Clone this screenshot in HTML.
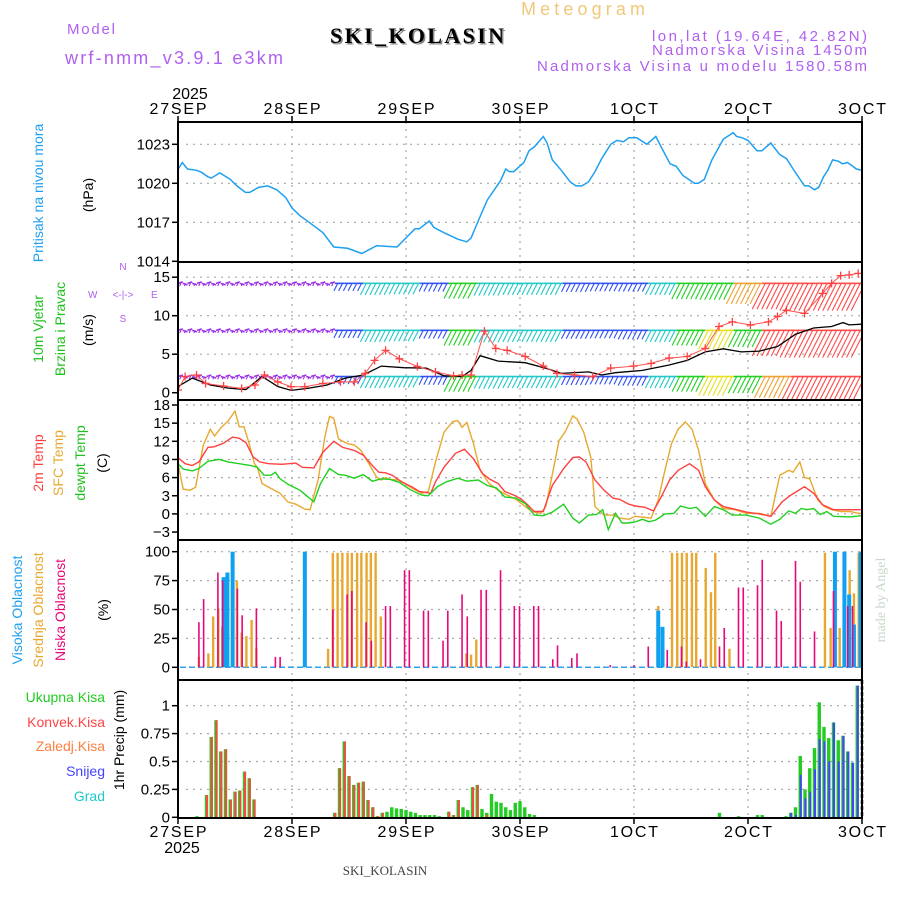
<!DOCTYPE html>
<html><head><meta charset="utf-8"><style>
body{margin:0;background:#fff}
svg{display:block;font-family:"Liberation Sans",sans-serif}
</style></head><body>
<svg id="chart" width="900" height="900" viewBox="0 0 900 900">
<g id="header">
<text x="521" y="15" fill="#f0c878" font-size="18" textLength="124">Meteogram</text>
<text x="67" y="34" fill="#b060f0" font-size="15" textLength="48">Model</text>
<text x="65" y="64" fill="#b060f0" font-size="18" textLength="218">wrf-nmm_v3.9.1 e3km</text>
<text x="417" y="43" fill="#888" font-size="22" font-weight="bold" font-family="Liberation Serif,serif" text-anchor="middle" textLength="174" transform="translate(1.5,1.5)">SKI_KOLASIN</text>
<text x="417" y="43" fill="#000" font-size="22" font-weight="bold" font-family="Liberation Serif,serif" text-anchor="middle" textLength="174">SKI_KOLASIN</text>
<text x="867" y="41" fill="#b060f0" font-size="15" text-anchor="end" textLength="215">lon,lat (19.64E, 42.82N)</text>
<text x="867" y="55" fill="#b060f0" font-size="15" text-anchor="end" textLength="215">Nadmorska Visina 1450m</text>
<text x="867" y="71" fill="#b060f0" font-size="15" text-anchor="end" textLength="330">Nadmorska Visina u modelu 1580.58m</text>
</g>
<g font-size="14">
<text transform="translate(43,193) rotate(-90)" fill="#20a0f0" text-anchor="middle">Pritisak na nivou mora</text>
<text transform="translate(93,195) rotate(-90)" fill="#000" text-anchor="middle">(hPa)</text>
<text transform="translate(43,329) rotate(-90)" fill="#20c020" text-anchor="middle">10m Vjetar</text>
<text transform="translate(65,329) rotate(-90)" fill="#20c020" text-anchor="middle">Brzina i Pravac</text>
<text transform="translate(93,330) rotate(-90)" fill="#000" text-anchor="middle">(m/s)</text>
<g fill="#b060f0" font-size="10">
<text x="123" y="270" text-anchor="middle">N</text><text x="123" y="322" text-anchor="middle">S</text>
<text x="88" y="298">W</text><text x="151" y="298">E</text>
<text x="123" y="298" text-anchor="middle">&lt;-|-&gt;</text>
</g>
<text transform="translate(43,463) rotate(-90)" fill="#ff4040" text-anchor="middle">2m Temp</text>
<text transform="translate(63,463) rotate(-90)" fill="#e8a830" text-anchor="middle">SFC Temp</text>
<text transform="translate(85,463) rotate(-90)" fill="#20c020" text-anchor="middle">dewpt Temp</text>
<text transform="translate(107,463) rotate(-90)" fill="#000" text-anchor="middle">(C)</text>
<text transform="translate(22,610) rotate(-90)" fill="#20a0f0" text-anchor="middle">Visoka Oblacnost</text>
<text transform="translate(43,610) rotate(-90)" fill="#e8a830" text-anchor="middle">Srednja Oblacnost</text>
<text transform="translate(65,610) rotate(-90)" fill="#e8087a" text-anchor="middle">Niska Oblacnost</text>
<text transform="translate(108,610) rotate(-90)" fill="#000" text-anchor="middle">(%)</text>
<g text-anchor="end" font-size="14">
<text x="105" y="702" fill="#22cc22">Ukupna Kisa</text>
<text x="105" y="727" fill="#ff4444">Konvek.Kisa</text>
<text x="105" y="751" fill="#ff8040">Zaledj.Kisa</text>
<text x="105" y="776" fill="#4444ff">Snijeg</text>
<text x="105" y="801" fill="#20c8c8">Grad</text>
</g>
<text transform="translate(124,740) rotate(-90)" fill="#000" text-anchor="middle">1hr Precip (mm)</text>
</g>
<text transform="translate(885,600) rotate(-90)" fill="#c8d8c8" font-size="14" font-family="Liberation Serif,serif" text-anchor="middle">made by Angel</text>
<text x="385" y="875" fill="#444" font-size="13" font-family="Liberation Serif,serif" text-anchor="middle">SKI_KOLASIN</text>
<g id="plots"></g>
</svg>
<script>
// ---------- DATA ----------
const dayLabels = ["27SEP","28SEP","29SEP","30SEP","1OCT","2OCT","3OCT"];
const pressHours = [0,0.9,2,3.9,4.9,6.3,7,8.8,11,12.4,14.2,15.1,17,18.9,20.8,22.7,24,25.7,27.6,30.5,32.8,35.7,38.7,41.8,46.1,48,49.9,50.8,52.9,53.9,56,58.9,60.8,61.7,63.2,65.1,67.9,69,69.8,70.7,72.2,72.8,73.9,75,76.9,77.7,78.8,80.7,82.6,83.8,85,86.4,87.8,89.2,91.1,92.4,93.8,94.9,96.6,98.7,100.6,102,103.6,104.9,106.3,108.7,109.6,110.8,112.4,114.8,116.9,117.6,118.8,120,121.9,122.9,124.8,126.7,128.1,129.5,131.9,132.8,134,134.9,135.9,136.8,137.8,139,139.9,140.9,142.1,142.8,144];
const pressVals = [1021.06,1021.6,1021.1,1021.0,1020.85,1020.5,1020.4,1020.8,1020.3,1019.8,1019.3,1019.3,1019.7,1019.8,1019.5,1018.9,1018.1,1017.5,1017.0,1016.2,1015.1,1015.0,1014.6,1015.2,1015.1,1015.8,1016.5,1016.5,1017.1,1016.6,1016.2,1015.7,1015.5,1015.8,1017.1,1018.7,1020.2,1021.1,1020.9,1020.9,1021.4,1021.6,1022.5,1022.8,1023.6,1023.1,1021.8,1021.0,1020.1,1019.8,1019.8,1020.1,1020.9,1021.9,1023.0,1023.3,1023.2,1023.5,1023.5,1023.0,1023.6,1022.6,1021.5,1021.3,1020.6,1020.0,1020.0,1020.3,1021.8,1023.4,1023.9,1023.6,1023.5,1023.3,1022.5,1022.5,1023.1,1022.2,1021.9,1021.1,1019.8,1019.8,1019.5,1019.7,1020.5,1021.0,1021.8,1021.7,1021.5,1021.6,1021.3,1021.1,1021.0];
const pressTicks = [1023,1020,1017,1014];

const windHours = [0,3,6.8,10.6,14.3,17.7,21,23.8,27.6,31.4,35.2,39,42.8,47.5,52.3,56,59.8,61.7,63.6,67.4,73.1,77.8,80.7,86.4,89.2,92.1,97.8,103.4,107.2,111,114.8,118.6,122.4,126.2,130,133.8,137.6,140,141.3,144];
const windSpeed = [0.8,1.9,1.0,0.6,0.4,2.1,0.8,0.3,0.6,1.0,1.9,2.3,3.46,3.25,3.2,2.2,2.1,2.9,4.8,4.1,3.9,3.1,2.5,2.7,2.3,2.6,2.9,3.6,4.2,5.3,5.7,5.3,5.4,6.0,7.6,8.4,8.6,9.1,8.8,8.9];
const gustHours = [0,1.5,3.9,5.8,9.6,13.4,16.2,18.2,21,23.8,26.7,30.5,34.2,37.1,39.4,41.4,43.7,46.6,50.4,54.2,58,59.8,61.7,64.5,66.9,69.3,73.1,76.9,79.8,83.5,87.3,91.1,95.9,99.6,103.4,107.2,111,113.9,116.7,120.5,124.3,126.2,128.1,131.9,135.7,137.6,139.5,141.3,143.2];
const gustSpeed = [0.35,2.1,2.3,1.2,0.87,0.56,1.0,2.3,1.4,0.78,0.78,1.2,1.4,1.4,2.5,4.2,5.5,4.4,3.4,2.7,2.2,2.3,2.3,8.0,5.75,5.5,4.7,3.46,2.5,2.3,2.1,3.2,3.46,3.8,4.5,4.7,5.75,8.6,9.2,8.8,9.2,9.9,10.7,10.3,12.9,14.2,15.2,15.3,15.5];
const barbHours = [0,6,12,18,24,30,36,42,48,54,60,66,72,78,84,90,96,102,108,114,120,126,132,138,144];
const barbTop = [1.2,1.3,1.2,1.5,1.3,1.5,2.5,3.8,3.6,2.7,5,4,3.8,3.8,2.8,2.6,2.7,3.8,5.2,5.4,6.8,8.5,9,9,9];
const barbMid = [1.2,1.3,1.2,1.5,1.3,1.5,2.5,3.8,3.6,2.7,5,4,3.8,3.8,2.8,2.6,3.0,3.8,5.0,6.3,5.5,8.5,9,9,9];
const barbLow = [1.2,1.3,1.2,1.5,1.3,1.5,2.5,3.8,3.6,2.7,5,4,3.8,3.8,2.8,2.6,3.0,3.8,5.0,6.3,5.5,7,9,9,9];
const barbLevels = [14.2,8.1,2.1];
const windTicks = [15,10,5,0];

const sfcHours = [0,1.1,2.5,3.7,5.3,6.8,7.7,9.1,10.5,12,12.9,13.9,14.8,16.1,16.7,17.7,19.6,21.5,23.1,24.8,26.7,27.8,29.5,30.9,31.9,32.8,33.8,35.7,37.1,38.5,40.4,41.8,42.8,43.7,44.7,46.6,49.4,51.3,52.7,54.2,56,57.9,58.9,59.8,60.8,62.2,63.6,65.5,67.4,69.3,71.2,73.1,74.5,76.4,77.4,78.3,80.2,81.6,83.1,84,85.4,86.9,87.8,89.7,91.6,93,94.9,96.3,99.6,101.1,102.5,103.9,105.3,106.8,108.2,109.6,111,112.9,114.8,117.2,119.6,122.4,124.8,126.7,128.6,129.5,130.9,131.9,133,134.7,136.1,137.6,139.5,141.4,143.2,144];
const sfcTemp = [8.3,4.1,3.9,4.4,11.3,14.0,12.9,14.3,15.3,17.0,14.4,14.4,12.1,8.3,7.7,5.0,4.2,3.4,2.0,1.6,0.8,0.7,5.6,12.7,16.1,15.8,12.4,11.6,11.4,10.5,8.0,6.1,5.6,6.0,5.7,5.6,4.2,3.4,3.7,8.6,13.5,15.3,15.4,14.3,15.1,11.6,7.2,5.0,3.9,3.1,2.4,1.2,0.4,0.1,1.2,4.5,12.1,13.7,16.2,15.7,13.5,9.4,1.2,-0.2,-0.2,-0.7,-0.9,-0.4,-0.7,2.3,7.2,11.6,14.0,15.2,14.0,10.5,5.0,2.3,0.9,0.7,0.1,0.1,-0.4,6.4,7.2,6.9,8.6,6.0,5.8,2.3,1.2,0.7,0.4,0.4,0.1,0.1];
const t2Hours = [0,1.5,3,4.4,6.3,7.7,9.6,11.5,12.9,14.3,15.8,17.2,19.1,21.9,24.8,26.2,28.6,30.5,32.8,34.7,37.1,39,40.9,42.3,43.7,45.1,47,49.4,50.8,53.2,54.2,56,58.4,60.3,62.2,64.1,65.5,67.4,68.8,70.7,72.2,73.6,75,76.9,78.8,81.2,83.1,84.5,85.9,87.8,89.7,91.6,93,94.9,96.3,98.2,100.1,101.6,103.5,105.3,107.7,109.6,111,112.9,114.8,117.7,119.6,122.4,124.8,127.2,129,131.9,133.8,135.7,138,144];
const t2Temp = [9.3,8.3,8.0,8.6,11.0,11.1,11.7,12.7,12.5,11.8,9.4,8.6,8.3,8.2,8.4,7.7,7.6,10.2,12.0,11.0,10.5,9.7,8.0,6.9,6.8,6.4,5.3,4.4,3.7,3.4,5.3,7.7,10.0,10.7,9.1,6.7,5.8,5.0,3.7,3.1,2.5,1.5,0.4,0.4,4.7,7.5,9.3,9.4,8.6,5.6,3.9,2.6,2.4,1.6,1.3,1.1,0.5,2.6,5.6,7.2,8.3,7.2,4.5,2.3,1.2,0.7,0.3,0,-0.4,2.0,3.1,4.5,3.4,1.5,0.7,0.7];
const dewHours = [0,1.1,3,4.4,6.3,8.7,10.5,12.9,15.3,16.7,18.1,19.6,20.5,21.5,23.4,25.7,28.6,30,31.9,33.8,35.2,37.1,39,40.9,42.8,44.7,46.6,48.9,51.3,52.7,54.6,56.5,58.9,60.8,63.2,65.1,67,68.8,71.2,73.1,75,76.9,78.8,81.2,83.1,84.5,86.4,88.1,89.4,90.6,92.1,93.5,94.9,96.3,97.8,99.2,100.6,102.5,104.4,105.8,107.7,109.1,111,112.9,114.8,116.7,119.6,122.4,124.8,126.7,128.6,130,131.2,132.4,133.8,135.2,136.6,138,141.4,144];
const dewTemp = [8.3,7.4,7.1,7.5,8.7,9.0,8.6,8.3,8.0,7.7,6.4,6.4,6.9,5.8,4.8,3.9,2.0,5.0,7.5,6.5,6.4,5.9,6.5,5.4,5.8,5.7,5.2,4.0,3.1,3.0,4.5,5.3,5.9,5.4,5.6,4.7,4.3,2.8,2.6,1.7,-0.2,-0.3,0.3,1.6,-0.7,-1.5,-0.2,-0.1,0.7,-2.6,0.1,-1.5,-1.5,-1.3,-0.9,-1.3,-1.0,0,0.1,1.3,0.9,1.1,-0.4,1.2,0.7,-0.2,-0.2,-0.7,-1.7,-0.9,0.5,0.1,0.9,0.7,0.9,-0.1,0.4,-0.4,-0.5,-0.3];
const tempTicks = [18,15,12,9,6,3,0,-3];

const lowHours = [4.4,5.4,8.4,9.4,12.5,13.5,16.5,20.5,21.5,32.6,35.6,36.6,39.6,40.7,43.7,44.7,47.7,48.7,51.7,52.7,55.8,56.8,59.8,60.9,63.8,64.9,67.9,70.8,71.9,74.9,75.9,78.9,79.9,82.9,84,91,96,99,103,106,107,110,114,115,118,119,122,123,126,127,130,131,134,138,141,142];
const lowCloud = [39,59,82,75,68,45,51,9,9,50,63,66,39,23,53,53,84,84,49,49,23,49,63,44,67,67,84,53,53,53,53,7,19,8,12,2,2,18,15,18,5,7,18,34,69,69,71,93,49,40,92,74,31,66,53,53];
const midHours = [4.4,6.4,7.4,8.5,9.3,10.4,11.5,12.4,13.4,14.4,15.5,16.5,31.6,32.6,33.6,34.6,35.7,36.6,37.7,38.6,39.7,40.6,41.6,42.7,60.7,61.7,62.8,101.1,104,105.1,106.1,107.1,108.2,109.1,111.1,112.2,113.1,116.1,136.2,137.4,139.3,140.3,141.4,142.3,143.3];
const midCloud = [9,12,44,51,35,16,9,75,30,27,41,17,16,99,99,99,99,99,99,99,99,99,99,44,12,11,24,53,99,99,99,99,99,99,86,65,99,16,99,34,34,99,84,64,99];
const highHours = [9.6,10.4,11.5,26.7,101.1,102,138.3,140.3,141.3,142.3,143.7];
const highCloud = [78,82,100,100,49,35,100,100,63,37,100];
const cloudTicks = [100,75,50,25,0];

const rainHours = [4,6,7,8,9,10,11,12,13,14,15,16,33,34,35,36,37,38,39,40,41,42,43,44,45,46,47,48,49,50,51,52,53,54,55,57,58,59,60,61,62,63,64,65,66,67,68,69,70,71,72,73,74,75,114,118,122,123,128,129,130,131,132,133,134,135,136,137,138,139,140,141,142,143];
const rainTotal = [0.01,0.2,0.72,0.87,0.59,0.61,0.16,0.23,0.24,0.41,0.35,0.16,0.04,0.44,0.68,0.37,0.29,0.31,0.32,0.155,0.09,0.01,0.04,0.05,0.09,0.08,0.075,0.065,0.05,0.04,0.02,0.02,0.02,0.02,0.01,0.05,0.02,0.155,0.09,0.065,0.27,0.29,0.075,0.04,0.21,0.14,0.13,0.09,0.065,0.13,0.145,0.09,0.03,0.02,0.04,0.01,0.02,0.02,0.01,0.04,0.09,0.55,0.25,0.44,0.62,1.03,0.81,0.71,0.85,0.69,0.73,0.59,0.49,1.18];
const rainConv = [0,0.2,0.72,0.87,0.59,0.61,0.16,0.23,0.24,0.41,0.35,0.16,0.04,0.44,0.68,0.37,0.29,0.31,0.32,0.155,0.09,0.01,0.04,0,0,0,0,0,0,0,0,0,0,0,0,0.05,0.02,0.155,0,0,0.27,0.29,0,0.02,0,0,0,0,0,0,0,0,0,0,0,0,0,0,0,0,0,0,0,0,0,0,0,0,0,0,0,0,0,0];
const rainSnow = [0,0,0,0,0,0,0,0,0,0,0,0,0,0,0,0,0,0,0,0,0,0,0,0,0,0,0,0,0,0,0,0,0,0,0,0,0,0,0,0,0,0,0,0,0,0,0,0,0,0,0,0,0,0,0,0,0,0,0,0.04,0.02,0.38,0.17,0.23,0.43,0.7,0.68,0.5,0.85,0.5,0.73,0.59,0.49,1.18];
const precipTicks = [1,0.75,0.5,0.25,0];
const precipTickLabels = ["1","0.75","0.5","0.25","0"];

// ---------- SCALES ----------
const X0=178, X1=862, HOURS=144;
const xS = h => X0 + h*(X1-X0)/HOURS;
const yP = p => 144.3 + (1023-p)*13.0;
const yW = s => 392.7 - s*7.7;
const yT = t => 405 + (18-t)*6.05;
const yC = c => 667.3 - c*1.156;
const yR = v => 817.3 - v*111.6;
const panels = [[122,262],[262,400],[400,540],[540,680],[680,818]];

const NS="http://www.w3.org/2000/svg";
const root=document.getElementById('plots');
function mk(tag, attrs, parent){const e=document.createElementNS(NS,tag);for(const k in attrs)e.setAttribute(k,attrs[k]);(parent||root).appendChild(e);return e;}
function linePath(hs, vs, yf){return hs.map((h,i)=>(i?'L':'M')+xS(h).toFixed(1)+','+yf(vs[i]).toFixed(1)).join('');}

panels.forEach(([t,b],pi)=>{
  const g=mk('g',{});
  
  
  for(let d=1; d<6; d++){
    const l=mk('line',{x1:xS(d*24),x2:xS(d*24),y1:t,y2:b,stroke:'#a8a8a8','stroke-width':1.2,'stroke-dasharray':'2,5'},g);
    
    
  }
});
function yAxis(ticks, labels, yf, pi, lo){
  const g=mk('g',{});
  
  
  ticks.forEach((v,i)=>{
    const y=yf(v);
    if(v!==lo) mk('line',{x1:X0+8,x2:X1,y1:y,y2:y,stroke:'#a8a8a8','stroke-width':1.2,'stroke-dasharray':'2,5'},g);
    mk('line',{x1:X0-6,x2:X0,y1:y,y2:y,stroke:'#000','stroke-width':1.5},g);
    const t=mk('text',{x:X0-8,y:y+5,'font-size':15,'text-anchor':'end',fill:'#000'},g);
    t.textContent=labels[i];
    
    
  });
}
yAxis(pressTicks, pressTicks.map(String), yP, 0, 1014);
yAxis(windTicks, windTicks.map(String), yW, 1, 0);
yAxis(tempTicks, tempTicks.map(t=>t<0?'\u2212'+(-t):String(t)), yT, 2, -3);
yAxis(cloudTicks, cloudTicks.map(String), yC, 3, 0);
yAxis(precipTicks, precipTickLabels, yR, 4, 0);

const pl=mk('path',{d:linePath(pressHours,pressVals,yP),fill:'none',stroke:'#1ea0f0','stroke-width':1.5});



function spdColor(s){
  if(s<2) return '#9a30e8';
  if(s<3.3) return '#3050f0';
  if(s<4.6) return '#20c8c8';
  if(s<5.9) return '#20d020';
  if(s<6.5) return '#e8e020';
  if(s<7.5) return '#f0a030';
  return '#ff4848';
}
const clip=mk('clipPath',{id:'windclip'});
mk('rect',{x:X0,y:262,width:X1-X0,height:138},clip);
const wg=mk('g',{'clip-path':'url(#windclip)'});


[barbTop,barbMid,barbLow].forEach((arr,ri)=>{
  const y0=yW(barbLevels[ri]);
  for(let h=0; h<=HOURS; h++){
    const idx=Math.min(arr.length-1, Math.round(h/6));
    const s=arr[idx];
    const c=spdColor(s);
    const x=xS(h);
    const L=s<2?3:s*3.4;
    mk('line',{x1:x,y1:y0,x2:x+4.8,y2:y0+(s<2?(h%2?1.5:-1.5):0),stroke:c,'stroke-width':1.6},wg);
    const b=mk('line',{x1:x+3,y1:y0,x2:x+3-L*0.45,y2:y0+L*0.89,stroke:c,'stroke-width':1.1},wg);
    
    
  }
});
const wl=mk('path',{d:linePath(windHours,windSpeed,yW),fill:'none',stroke:'#000','stroke-width':1.3,'clip-path':'url(#windclip)'});


const gl=mk('path',{d:linePath(gustHours,gustSpeed,yW),fill:'none',stroke:'#ff5050','stroke-width':1,'clip-path':'url(#windclip)'});


gustHours.forEach((h,i)=>{
  const x=xS(h), y=yW(gustSpeed[i]);
  const p=mk('path',{d:`M${x-4},${y}H${x+4}M${x},${y-4}V${y+4}`,stroke:'#ff4040','stroke-width':1.3,'clip-path':'url(#windclip)'});
  
  
});

[[sfcHours,sfcTemp,'#e8a830','sfc-temp-line'],[t2Hours,t2Temp,'#ff4040','temp-2m-line'],[dewHours,dewTemp,'#20d020','dewpoint-line']].forEach(([hs,vs,c,n])=>{
  const p=mk('path',{d:linePath(hs,vs,yT),fill:'none',stroke:c,'stroke-width':1.4});
  
  
});

const base=mk('line',{x1:X0+2,x2:X1,y1:yC(0),y2:yC(0),stroke:'#30a0f0','stroke-width':1.5,'stroke-dasharray':'6,3'});


function bars(hs, vs, yf, w, c, n){
  hs.forEach((h,i)=>{
    if(vs[i]<=0) return;
    const x=xS(h), y=yf(vs[i]);
    const r=mk('rect',{x:x-w/2,y:y,width:w,height:yf(0)-y,fill:c});
    
    
  });
}
bars(midHours, midCloud, yC, 2.4, '#e8a830', 'mid-cloud-bar');
bars(highHours, highCloud, yC, 4, '#10a0f0', 'high-cloud-bar');
bars(lowHours, lowCloud, yC, 1.6, '#e8087a', 'low-cloud-bar');

bars(rainHours, rainTotal, yR, 3.4, '#22cc22', 'total-precip-bar');
bars(rainHours.map(h=>h+0.1), rainConv, yR, 2, '#ff4444', 'convective-precip-bar');
bars(rainHours.map(h=>h+0.1), rainSnow, yR, 2, '#4444ff', 'snow-bar');

panels.forEach(([t,b],pi)=>{
  const r=mk('rect',{x:X0,y:t,width:X1-X0,height:b-t,fill:'none',stroke:'#000','stroke-width':2});
  
  
});
mk('line',{x1:X1,x2:X1,y1:680,y2:818,stroke:'#000','stroke-width':2.5,'stroke-dasharray':'4,2'});

const xa=mk('g',{});


dayLabels.forEach((lab,i)=>{
  const x=xS(i*24);
  mk('line',{x1:x,x2:x,y1:116,y2:122,stroke:'#000','stroke-width':1.5},xa);
  mk('line',{x1:x,x2:x,y1:818,y2:824,stroke:'#000','stroke-width':1.5},xa);
  const t=mk('text',{x:x,y:114,'font-size':16,'text-anchor':'middle',fill:'#000',textLength:lab.length>4?57:48},xa);
  t.textContent=lab;
  
  
  const t2=mk('text',{x:x,y:837,'font-size':16,'text-anchor':'middle',fill:'#000',textLength:lab.length>4?57:48},xa);
  t2.textContent=lab;
  
  
});
const yr1=mk('text',{x:X0+12,y:99,'font-size':16,'text-anchor':'middle',fill:'#000'},xa);
yr1.textContent='2025';


const yr2=mk('text',{x:X0+4,y:853,'font-size':16,'text-anchor':'middle',fill:'#000'},xa);
yr2.textContent='2025';


</script>
</body></html>
